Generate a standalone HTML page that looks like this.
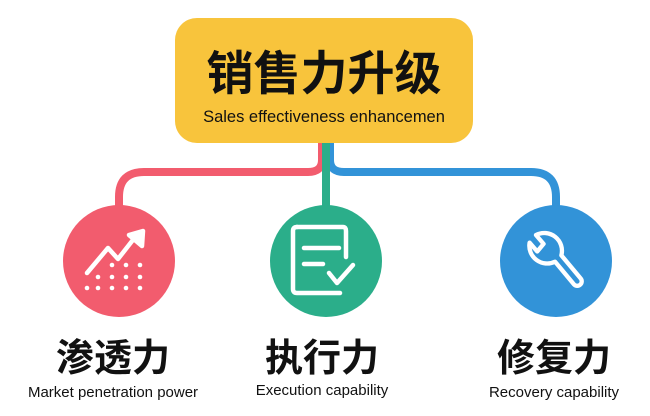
<!DOCTYPE html>
<html><head><meta charset="utf-8"><style>
html,body{margin:0;padding:0;background:#fff;}
body{width:650px;height:416px;position:relative;overflow:hidden;font-family:"Liberation Sans","Noto Sans CJK SC",sans-serif;}
.t{position:absolute;text-align:center;color:#111;white-space:nowrap;}
.cn{font-family:"Noto Sans CJK SC","WenQuanYi Zen Hei",sans-serif;font-weight:700;}
</style></head><body>
<svg width="650" height="416" style="position:absolute;left:0;top:0">
<rect x="175" y="18" width="298" height="125" rx="22" fill="#F8C43C"/>
<g fill="none" stroke-width="8">
<path d="M322 143 V160 Q322 172 308 172 H144 Q119 172 119 197 V210" stroke="#F25C6E"/>
<path d="M330 143 V160 Q330 172 344 172 H531 Q556 172 556 197 V210" stroke="#3293D8"/>
<path d="M326 143 V210" stroke="#2BAE8A"/>
</g>
<circle cx="119" cy="261" r="56" fill="#F25C6E"/>
<circle cx="326" cy="261" r="56" fill="#2BAE8A"/>
<circle cx="556" cy="261" r="56" fill="#3293D8"/>
<g stroke="#fff" stroke-width="4.5" stroke-linecap="round" stroke-linejoin="round" fill="none">
<path d="M87 273 L108 248 L118 259 L136 236"/>
<path d="M129 235 L143 231 L142 246 Z" fill="#fff"/>
<path d="M297 227 H343 Q346 227 346 231 V257"/>
<path d="M297 227 Q293 227 293 231 V289 Q293 293 297 293 H340"/>
<path d="M304 248 H339 M304 264 H323 M329 273 L337 283 L353 265"/>
</g>
<g transform="translate(-160,-66) scale(1.27)">
<path d="M543 243 L549 250 L554 244 L548 237 A14 14 0 0 1 568 253 L583 271 A3 3 0 0 1 578 276 L563 258 A14 14 0 0 1 543 243 Z" stroke="#fff" stroke-width="3.4" fill="none" stroke-linejoin="round"/>
</g>
<g fill="#fff">
<circle cx="112" cy="265" r="2.3"/><circle cx="126" cy="265" r="2.3"/><circle cx="140" cy="265" r="2.3"/>
<circle cx="98" cy="277" r="2.3"/><circle cx="112" cy="277" r="2.3"/><circle cx="126" cy="277" r="2.3"/><circle cx="140" cy="277" r="2.3"/>
<circle cx="87" cy="288" r="2.3"/><circle cx="98" cy="288" r="2.3"/><circle cx="112" cy="288" r="2.3"/><circle cx="126" cy="288" r="2.3"/><circle cx="140" cy="288" r="2.3"/>
</g>
</svg>
<div class="t cn" style="left:175px;width:298px;top:38px;font-size:47px;line-height:64px;">销售力升级</div>
<div class="t" style="left:175px;width:298px;top:107px;font-size:16.5px;line-height:20px;">Sales effectiveness enhancemen</div>
<div class="t cn" style="left:13px;width:200px;top:330px;font-size:38px;line-height:50px;">渗透力</div>
<div class="t cn" style="left:222px;width:200px;top:330px;font-size:38px;line-height:50px;">执行力</div>
<div class="t cn" style="left:454px;width:200px;top:330px;font-size:38px;line-height:50px;">修复力</div>
<div class="t" style="left:13px;width:200px;top:384px;font-size:15px;line-height:18px;">Market penetration power</div>
<div class="t" style="left:222px;width:200px;top:382px;font-size:15px;line-height:18px;">Execution capability</div>
<div class="t" style="left:454px;width:200px;top:384px;font-size:15px;line-height:18px;">Recovery capability</div>
</body></html>
